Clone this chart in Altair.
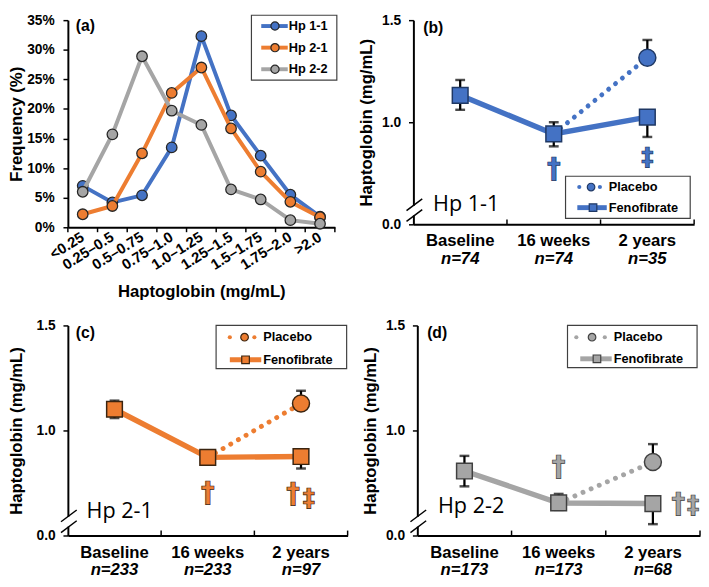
import altair as alt
import pandas as pd

# ---------------- data ----------------
bins_a = ["<0.25", "0.25–0.5", "0.5–0.75", "0.75–1.0", "1.0–1.25",
          "1.25–1.5", "1.5–1.75", "1.75–2.0", ">2.0"]
series_a = ["Hp 1-1", "Hp 2-1", "Hp 2-2"]
freq_hp11 = [7.0, 4.2, 5.4, 13.5, 32.3, 18.9, 12.1, 5.5, 1.8]
freq_hp21 = [2.2, 3.6, 12.5, 22.7, 27.0, 16.7, 9.4, 4.3, 1.7]
freq_hp22 = [6.0, 15.7, 28.9, 19.7, 17.3, 6.4, 4.7, 1.2, 0.6]
y_ticks_a = [0, 5, 10, 15, 20, 25, 30, 35]

visits = ["Baseline", "16 weeks", "2 years"]
y_ticks_hp = [0.5, 1.0, 1.5]          # bottom tick is drawn as "0.0" (broken axis)

# (b) Hp 1-1
n_b = [74, 74, 35]
feno_b = [1.132, 0.943, 1.025]
feno_lo_b = [1.061, 0.882, 0.928]
feno_hi_b = [1.207, 1.000, 1.025]
plac_b, plac_lo_b, plac_hi_b = 1.316, 1.316, 1.403
sig_b = [("16 weeks", "†", 0.767), ("2 years", "‡", 0.828)]

# (c) Hp 2-1
n_c = [233, 233, 97]
feno_c = [1.101, 0.872, 0.876]
feno_lo_c = [1.059, 0.860, 0.819]
feno_hi_c = [1.142, 0.884, 0.876]
plac_c, plac_lo_c, plac_hi_c = 1.128, 1.128, 1.189
sig_c = [("16 weeks", "†", 0.698), ("2 years", "†", 0.693), ("2 years", "‡", 0.680)]

# (d) Hp 2-2
n_d = [173, 173, 68]
feno_d = [0.807, 0.655, 0.652]
feno_lo_d = [0.734, 0.622, 0.554]
feno_hi_d = [0.879, 0.698, 0.652]
plac_d, plac_lo_d, plac_hi_d = 0.850, 0.850, 0.935
sig_d = [("16 weeks", "†", 0.822), ("2 years", "†", 0.644), ("2 years", "‡", 0.644)]

# ---------------- styles ----------------
BLUE, ORANGE, GRAY = "#4472C4", "#ED7D31", "#A5A5A5"
FONT = "Liberation Sans"
ONE = pd.DataFrame({"k": [0]})


def vtext(text, x, y, size, weight="bold", align="left", font=FONT, style="normal"):
    return alt.Chart(ONE).mark_text(text=text, align=align, baseline="middle", font=font,
                                    fontSize=size, fontWeight=weight, fontStyle=style,
                                    color="black").encode(x=alt.value(x), y=alt.value(y))


def vrule(x, y, x2=None, y2=None, color="black", width=1.5):
    enc = dict(x=alt.value(x), y=alt.value(y))
    if x2 is not None:
        enc["x2"] = alt.value(x2)
    if y2 is not None:
        enc["y2"] = alt.value(y2)
    return alt.Chart(ONE).mark_rule(color=color, strokeWidth=width).encode(**enc)


def vbox(x, x2, y, y2):
    return alt.Chart(ONE).mark_rect(fill="white", stroke="#404040", strokeWidth=1.2).encode(
        x=alt.value(x), x2=alt.value(x2), y=alt.value(y), y2=alt.value(y2))


def vsym(shape, x, y, size, fill, stroke, sw=1.2):
    return alt.Chart(ONE).mark_point(shape=shape, filled=True, fill=fill, stroke=stroke,
                                     strokeWidth=sw, size=size, opacity=1).encode(
        x=alt.value(x), y=alt.value(y))


def vdot(x, y, size, color):
    return alt.Chart(ONE).mark_circle(size=size, color=color, opacity=1).encode(
        x=alt.value(x), y=alt.value(y))


# ---------------- panel (a) ----------------
W_A, H_A = 272, 211
dfa = pd.DataFrame({
    "bin": bins_a * 3,
    "idx": list(range(len(bins_a))) * 3,
    "series": sum([[s] * len(bins_a) for s in series_a], []),
    "freq": freq_hp11 + freq_hp21 + freq_hp22,
})
xs_a = alt.Scale(type="band", domain=bins_a, paddingInner=0, paddingOuter=0)
ys_a = alt.Scale(domain=[0, 35], nice=False, zero=True)
xaxis_a = alt.Axis(title="Haptoglobin (mg/mL)", ticks=False, labelAngle=-32, labelAlign="right",
                   labelBaseline="middle", labelFontSize=15, labelPadding=8,
                   minExtent=52, maxExtent=52, titlePadding=6, titleFontSize=17, zindex=0)
yaxis_a = alt.Axis(title="Frequency (%)", values=y_ticks_a, labelExpr="datum.value + '%'",
                   tickSize=5, labelPadding=9, labelFontSize=14, minExtent=42, maxExtent=42,
                   titlePadding=1, titleFontSize=17, zindex=0)
XA = alt.X("bin:N", scale=xs_a, axis=xaxis_a)
YA = alt.Y("freq:Q", scale=ys_a, axis=yaxis_a)

layers_a = [
    alt.Chart(pd.DataFrame({"bin": bins_a})).mark_rule(color="black", strokeWidth=1.5).encode(
        x=alt.X("bin:N", scale=xs_a, axis=xaxis_a, bandPosition=0),
        y=alt.value(H_A), y2=alt.value(H_A + 5)),
    vrule(W_A, H_A, y2=H_A + 5),
]
for s, col in zip(series_a, [BLUE, ORANGE, GRAY]):
    sub = alt.Chart(dfa).transform_filter(alt.datum.series == s)
    layers_a.append(sub.mark_line(color=col, strokeWidth=4).encode(x=XA, y=YA, order="idx:Q"))
    layers_a.append(sub.mark_point(shape="circle", filled=True, fill=col, stroke="#262626",
                                   strokeWidth=1.3, size=115, opacity=1).encode(x=XA, y=YA))
# legend (a)
layers_a.append(vbox(187, 274, -5, 61))
for s, col, yy in zip(series_a, [BLUE, ORANGE, GRAY], [6, 28, 50]):
    layers_a.append(vrule(197, yy, x2=224, color=col, width=4))
    layers_a.append(vsym("circle", 211, yy, 70, col, "#262626"))
    layers_a.append(vtext(s, 225, yy, 13))
layers_a.append(vtext("(a)", 8, 6, 16))
panel_a = alt.layer(*layers_a).properties(width=W_A, height=H_A)


# ---------------- panels (b)-(d) ----------------
def hp_panel(p):
    w, h = p["w"], p["h"]
    color, dark = p["color"], p["dark"]
    xs = alt.Scale(type="band", domain=visits, paddingInner=0, paddingOuter=0)
    ys = alt.Scale(domain=[0.5, 1.5], nice=False, zero=False)
    xaxis = alt.Axis(title=None, ticks=False, labelFontSize=17, labelPadding=9, labelAngle=0,
                     labelBaseline="top", zindex=0)
    yaxis = alt.Axis(title="Haptoglobin (mg/mL)", values=y_ticks_hp,
                     labelExpr="datum.value < 0.75 ? '0.0' : format(datum.value, '.1f')",
                     tickSize=5, labelPadding=8, labelFontSize=14,
                     minExtent=p["yext"], maxExtent=p["yext"], titlePadding=p["ytp"],
                     titleFontSize=17, zindex=0)
    X = alt.X("visit:N", scale=xs, axis=xaxis)
    X0 = alt.X("visit:N", scale=xs, axis=xaxis, bandPosition=0)
    Yv = alt.Y("v:Q", scale=ys, axis=yaxis)

    feno_df = pd.DataFrame({"visit": visits, "v": p["feno"], "i": [0, 1, 2]})
    plac_pt = pd.DataFrame({"visit": ["2 years"], "v": [p["plac"]]})
    plac_line = pd.DataFrame({"visit": visits[1:], "v": [p["feno"][1], p["plac"]], "i": [0, 1]})
    eb = pd.DataFrame({"visit": visits + ["2 years"],
                       "lo": p["flo"] + [p["plo"]], "hi": p["fhi"] + [p["phi"]]})
    n_df = pd.DataFrame({"visit": visits, "t": ["n=%d" % k for k in p["n"]]})

    L = [
        alt.Chart(pd.DataFrame({"visit": visits[1:]})).mark_rule(color="black", strokeWidth=1.5)
        .encode(x=X0, y=alt.value(h), y2=alt.value(h - 5)),
        vrule(w, h, y2=h - 5),
        alt.Chart(plac_line).mark_line(color=color, strokeWidth=5, strokeDash=[0.01, 9],
                                       strokeCap="round").encode(x=X, y=Yv, order="i:Q"),
        alt.Chart(feno_df).mark_line(color=color, strokeWidth=5.5).encode(x=X, y=Yv, order="i:Q"),
        alt.Chart(eb).mark_rule(color="black", strokeWidth=2.3).encode(
            x=X, y=alt.Y("lo:Q", scale=ys, axis=yaxis), y2="hi:Q"),
        alt.Chart(eb).mark_tick(color="black", thickness=2.5, size=10).encode(
            x=X, y=alt.Y("lo:Q", scale=ys, axis=yaxis)),
        alt.Chart(eb).mark_tick(color="black", thickness=2.5, size=10).encode(
            x=X, y=alt.Y("hi:Q", scale=ys, axis=yaxis)),
        alt.Chart(feno_df).mark_point(shape="square", filled=True, fill=color, stroke=dark,
                                      strokeWidth=1.5, size=256, opacity=1).encode(x=X, y=Yv),
        alt.Chart(plac_pt).mark_point(shape="circle", filled=True, fill=color, stroke=dark,
                                      strokeWidth=1.5, size=300, opacity=1).encode(x=X, y=Yv),
        alt.Chart(n_df).mark_text(fontSize=17, fontWeight="bold", fontStyle="italic", font=FONT,
                                  baseline="middle", color="black").encode(
            x=X, y=alt.value(h + 35), text="t:N"),
    ]
    for (vis, sym, val), dx in zip(p["sig"], p["sig_dx"]):
        L.append(alt.Chart(pd.DataFrame({"visit": [vis], "v": [val]})).mark_text(
            text=sym, font="DejaVu Sans", fontWeight="bold", fontSize=28 if sym == "†" else 25,
            fill=color, stroke=dark, strokeWidth=0.7, baseline="middle", dx=dx,
            opacity=1).encode(x=X, y=Yv))
    # legend
    lg = p["leg"]
    L.append(vbox(lg["x0"], lg["x1"], lg["y0"], lg["y1"]))
    for xx in lg["dots"]:
        L.append(vdot(xx, lg["r1"], 18, color))
    L.append(vsym("circle", lg["circ"], lg["r1"], 60, color, dark))
    L.append(vrule(lg["l0"], lg["r2"], x2=lg["l1"], color=color, width=5))
    L.append(vsym("square", lg["sq"], lg["r2"], 60, color, dark))
    L.append(vtext("Placebo", lg["tx"], lg["r1"], 13))
    L.append(vtext("Fenofibrate", lg["tx"], lg["r2"], 13))
    # labels
    L.append(vtext(p["tag"], p["tag_xy"][0], p["tag_xy"][1], 16))
    L.append(vtext(p["hp"], p["hp_xy"][0], p["hp_xy"][1], 22, weight="normal", font="Open Sans"))
    # axis break
    L.append(vrule(0, h - 9, y2=h - 19, color="white", width=5))
    L.append(vrule(-7, h - 3, x2=9, y2=h - 15, width=1.5))
    L.append(vrule(-7, h - 14, x2=9, y2=h - 26, width=1.5))
    return alt.layer(*L).properties(width=w, height=h)


H_B = 208
panel_b = hp_panel(dict(
    w=286, h=H_B, color=BLUE, dark="#1F3864", yext=32, ytp=7,
    n=n_b, feno=feno_b, flo=feno_lo_b, fhi=feno_hi_b,
    plac=plac_b, plo=plac_lo_b, phi=plac_hi_b, sig=sig_b, sig_dx=[0, 0],
    leg=dict(x0=155, x1=282, y0=H_B - 49, y1=H_B - 6, r1=H_B - 38, r2=H_B - 17,
             dots=[169, 190], circ=181, l0=167, l1=197, sq=183, tx=199),
    tag="(b)", tag_xy=(10, 8), hp="Hp 1-1", hp_xy=(20, H_B - 21)))

H_C = 214
panel_c = hp_panel(dict(
    w=285, h=H_C, color=ORANGE, dark="#3A2410", yext=31, ytp=12,
    n=n_c, feno=feno_c, flo=feno_lo_c, fhi=feno_hi_c,
    plac=plac_c, plo=plac_lo_c, phi=plac_hi_c, sig=sig_c, sig_dx=[0, -8, 8],
    leg=dict(x0=151, x1=284, y0=0, y1=44, r1=12, r2=35,
             dots=[165, 190], circ=180, l0=165, l1=197, sq=181, tx=199),
    tag="(c)", tag_xy=(8, 8), hp="Hp 2-1", hp_xy=(19, H_C - 25)))

panel_d = hp_panel(dict(
    w=288, h=H_C, color=GRAY, dark="#404040", yext=32, ytp=7,
    n=n_d, feno=feno_d, flo=feno_lo_d, fhi=feno_hi_d,
    plac=plac_d, plo=plac_lo_d, phi=plac_hi_d, sig=sig_d, sig_dx=[0, 26, 41],
    leg=dict(x0=153, x1=285, y0=0, y1=43, r1=12, r2=34,
             dots=[162, 191], circ=178, l0=166, l1=198, sq=183, tx=200),
    tag="(d)", tag_xy=(10, 8), hp="Hp 2-2", hp_xy=(21, H_C - 30)))

row1 = alt.hconcat(panel_a, panel_b, spacing=20)
row2 = alt.hconcat(panel_c, panel_d, spacing=13)
chart = (
    alt.vconcat(row1, row2, spacing=19)
    .properties(padding={"left": 0, "top": 0, "right": 0, "bottom": 0})
    .configure_axis(labelFont=FONT, titleFont=FONT, labelFontWeight="bold",
                    titleFontWeight="bold", labelColor="black", titleColor="black",
                    domainColor="black", tickColor="black", domainWidth=2, tickWidth=1.5,
                    grid=False)
    .configure_view(strokeWidth=0)
)
chart.save("out.html", embed_options={"renderer": "svg", "actions": False})
